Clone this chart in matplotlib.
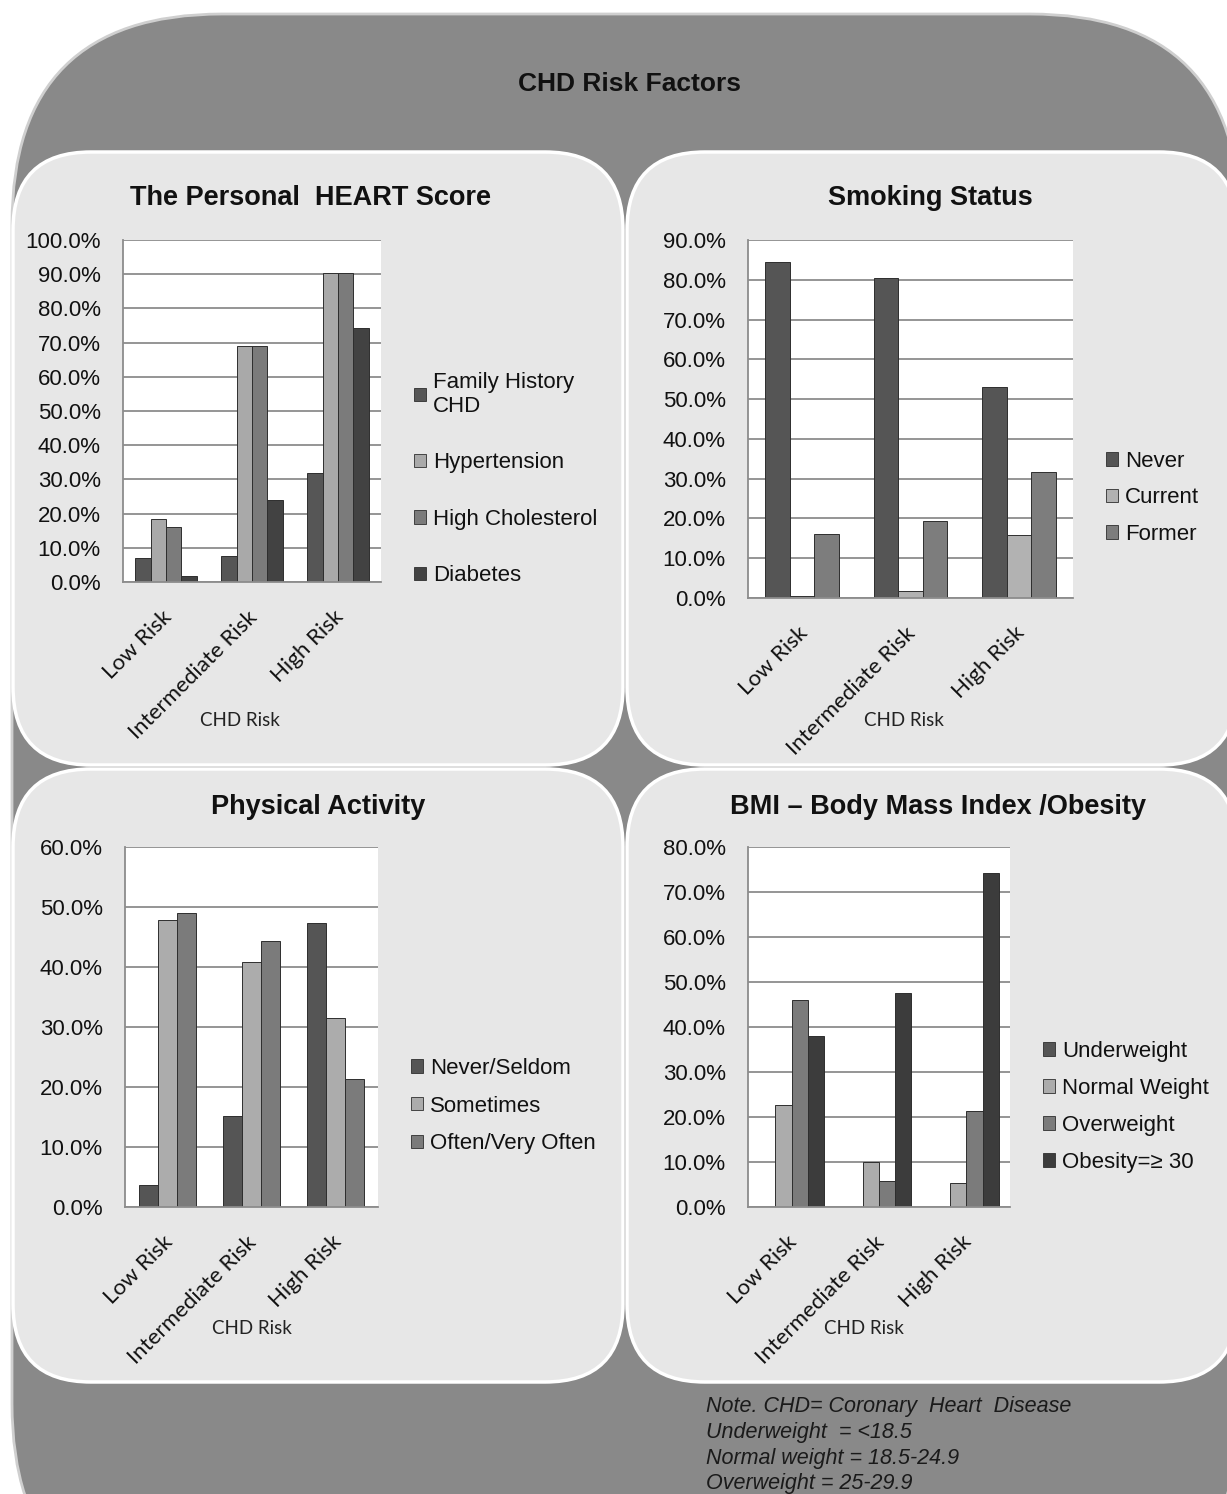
import matplotlib
matplotlib.use("Agg")
import matplotlib.pyplot as plt
import matplotlib.transforms as mtransforms
from matplotlib.patches import FancyBboxPatch, Patch
from matplotlib.ticker import PercentFormatter, MultipleLocator
import numpy as np

# data (percent)
categories = ['Low Risk', 'Intermediate Risk', 'High Risk']

heart_series = ['Family History\nCHD', 'Hypertension', 'High Cholesterol', 'Diabetes']
heart_values = [[7.1, 7.6, 31.9],
                [18.3, 69.1, 90.3],
                [16.1, 69.1, 90.3],
                [1.9, 23.9, 74.4]]

smoking_series = ['Never', 'Current', 'Former']
smoking_values = [[84.4, 80.4, 53.1],
                  [0.4, 1.8, 15.8],
                  [16.0, 19.3, 31.7]]

activity_series = ['Never/Seldom', 'Sometimes', 'Often/Very Often']
activity_values = [[3.6, 15.1, 47.4],
                   [47.9, 40.9, 31.5],
                   [49.0, 44.4, 21.3]]

bmi_series = ['Underweight', 'Normal Weight', 'Overweight', 'Obesity=\u2265 30']
bmi_values = [[0.0, 0.0, 0.0],
              [22.7, 9.9, 5.4],
              [46.1, 5.7, 21.3],
              [37.9, 47.6, 74.2]]

note_lines = ['Note. CHD= Coronary  Heart  Disease',
              'Underweight  = <18.5',
              'Normal weight = 18.5-24.9',
              'Overweight = 25-29.9']

W, H = 1227, 1494
SANS = ['Liberation Sans', 'DejaVu Sans']
plt.rcParams['font.family'] = SANS

fig = plt.figure(figsize=(W / 100, H / 100), dpi=100)
fig.patch.set_facecolor('white')
# pixel coordinates, origin top-left
px = mtransforms.Affine2D().scale(1 / W, -1 / H).translate(0, 1) + fig.transFigure

# background shapes
bg = fig.add_axes([0, 0, 1, 1])
bg.set_xlim(0, W)
bg.set_ylim(H, 0)
bg.axis('off')
bg.add_patch(FancyBboxPatch((12, 14), 1228, 1600,
                            boxstyle='round,pad=0,rounding_size=210',
                            fc='#898989', ec='#cfcfcf', lw=2))
panels = [(13, 152, 610, 613), (627, 152, 610, 613),
          (13, 769, 610, 613), (627, 769, 610, 613)]
for x, y, w, h in panels:
    bg.add_patch(FancyBboxPatch((x, y), w, h,
                                boxstyle='round,pad=0,rounding_size=78',
                                fc='#e7e7e7', ec='white', lw=2.5))

fig.text(629, 84, 'CHD Risk Factors', transform=px, ha='center', va='center',
         fontsize=19, fontweight='bold', color='#111111')


def panel(rect, title, title_xy, series, values, colors, ymax, width,
          leg_xy, leg_spacing, label_xy):
    x0, y0, x1, y1 = rect
    ax = fig.add_axes([x0 / W, 1 - y1 / H, (x1 - x0) / W, (y1 - y0) / H])
    ax.set_facecolor('white')
    n = len(series)
    xs = np.arange(len(categories))
    for i, (name, vals, c) in enumerate(zip(series, values, colors)):
        off = (i - (n - 1) / 2) * width
        ax.bar(xs + off, vals, width, color=c, edgecolor='#2e2e2e',
               linewidth=0.7, label=name)
    ax.set_xlim(-0.5, len(categories) - 0.5)
    ax.set_ylim(0, ymax)
    ax.yaxis.set_major_locator(MultipleLocator(10))
    ax.yaxis.set_major_formatter(PercentFormatter(xmax=100, decimals=1))
    ax.yaxis.grid(True, color='#8c8c8c', lw=1.3)
    ax.set_axisbelow(True)
    for s in ['top', 'right']:
        ax.spines[s].set_visible(False)
    for s in ['left', 'bottom']:
        ax.spines[s].set_color('#8c8c8c')
        ax.spines[s].set_linewidth(1.3)
    ax.tick_params(axis='y', length=0, pad=16, labelsize=16, labelcolor='#111111')
    ax.tick_params(axis='x', length=0, pad=18)
    ax.set_xticks(xs)
    ax.set_xticklabels(categories, rotation=45, ha='right', va='top',
                       rotation_mode='anchor', family='Lato', fontsize=16,
                       color='#111111')
    shift = mtransforms.ScaledTranslation(-5 / 100, 0, fig.dpi_scale_trans)
    for lab in ax.get_xticklabels():
        lab.set_transform(lab.get_transform() + shift)
    ax.set_xlabel('CHD Risk', family='Lato', fontsize=13.5, color='#222222')
    ax.xaxis.set_label_coords(label_xy[0], label_xy[1], transform=px)
    ax.xaxis.label.set_va('center')
    fig.text(title_xy[0], title_xy[1], title, transform=px, ha='center',
             va='center', fontsize=19.5, fontweight='bold', color='#111111')
    handles = [Patch(fc=c, ec='#2e2e2e', lw=0.6) for c in colors]
    ax.legend(handles, series, loc='center left', bbox_to_anchor=leg_xy,
              bbox_transform=px, frameon=False, fontsize=16, borderpad=0,
              borderaxespad=0, handlelength=0.55, handleheight=0.55,
              handletextpad=0.3, labelspacing=leg_spacing, labelcolor='#111111')
    return ax


panel((123, 240, 381, 582), 'The Personal  HEART Score', (311, 198),
      heart_series, heart_values, ['#565656', '#a9a9a9', '#7b7b7b', '#424242'],
      100, 0.18, (414, 479), 1.6, (240, 721))
panel((748, 240, 1073, 598), 'Smoking Status', (930, 198),
      smoking_series, smoking_values, ['#555555', '#b2b2b2', '#7d7d7d'],
      90, 0.226, (1106, 498), 0.7, (904, 721))
panel((125, 847, 378, 1207), 'Physical Activity', (318, 807),
      activity_series, activity_values, ['#555555', '#acacac', '#7b7b7b'],
      60, 0.226, (411, 1106), 0.75, (252, 1328))
panel((748, 847, 1010, 1207), 'BMI \u2013 Body Mass Index /Obesity', (938, 807),
      bmi_series, bmi_values, ['#555555', '#acacac', '#7b7b7b', '#3c3c3c'],
      80, 0.186, (1043, 1107), 0.72, (864, 1328))

fig.text(706, 1396, '\n'.join(note_lines), transform=px, ha='left', va='top',
         fontsize=15.5, style='italic', color='#1a1a1a', linespacing=1.3)

fig.savefig('out.png', dpi=100, facecolor=fig.get_facecolor())
